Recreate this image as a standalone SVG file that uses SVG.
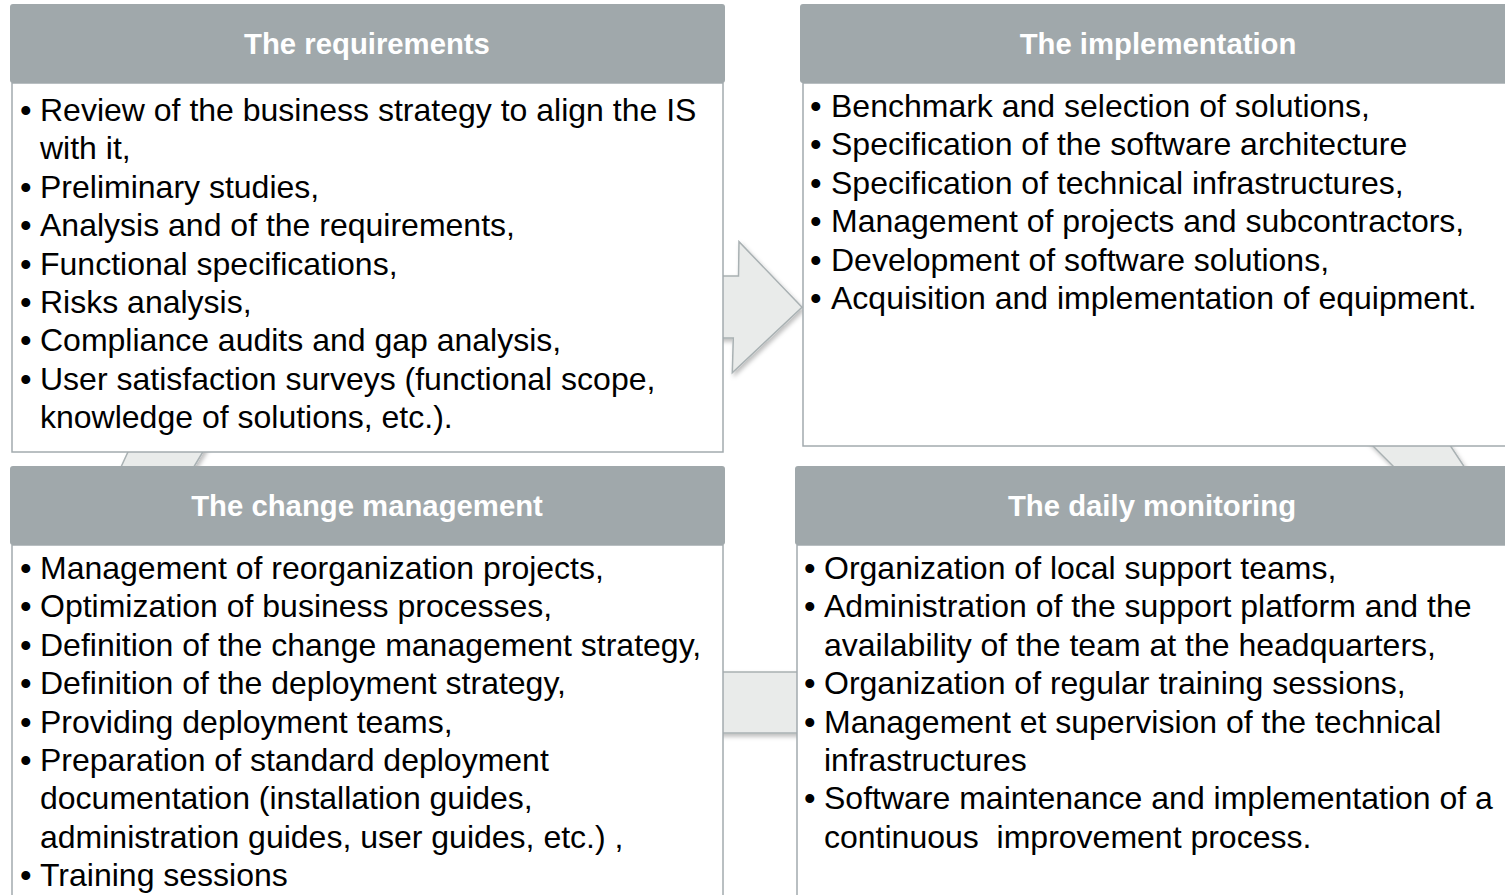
<svg xmlns="http://www.w3.org/2000/svg" width="1505" height="895" viewBox="0 0 1505 895">
<style>
.hdr{fill:#a0a8ab}
.body{fill:#ffffff;stroke:#a3abae;stroke-width:1.5}
.ht{font-family:"Liberation Sans",Arial,sans-serif;font-size:29.3px;font-weight:bold;fill:#ffffff;text-anchor:middle}
.bt{font-family:"Liberation Sans",Arial,sans-serif;font-size:32px;fill:#000000;white-space:pre}
.bu{font-family:"Liberation Sans",Arial,sans-serif;font-size:33px;fill:#000000}
.conn{fill:#e9ebea;stroke:#a9b1b3;stroke-width:1.5;stroke-linejoin:miter}
</style>
<defs>
<filter id="sh" x="-20%" y="-20%" width="140%" height="140%">
<feDropShadow dx="2" dy="3" stdDeviation="2" flood-color="#000" flood-opacity="0.25"/>
</filter>
</defs>
<g id="connectors">
<polygon class="conn" filter="url(#sh)" points="700,276 738.5,276 739,241.7 802,307.3 732.3,372.7 733.3,338 700,338"/>
<polygon class="conn" filter="url(#sh)" points="1357,430 1440,430 1473,480 1407,480"/>
<rect class="conn" filter="url(#sh)" x="700" y="672" width="120" height="61"/>
<polygon class="conn" filter="url(#sh)" points="133.5,440 210,440 186,480 115,480"/>
</g>
<g id="requirements">
<rect class="body" x="12" y="83" width="711" height="369"/>
<rect class="hdr" x="10" y="4" width="715" height="79" rx="3"/>
<text class="ht" x="367" y="54">The requirements</text>
<text class="bu" x="20" y="122">•</text><text class="bt" x="40" y="121">Review of the business strategy to align the IS</text>
<text class="bt" x="40" y="159.4">with it,</text>
<text class="bu" x="20" y="198.8">•</text><text class="bt" x="40" y="197.8">Preliminary studies,</text>
<text class="bu" x="20" y="237.2">•</text><text class="bt" x="40" y="236.2">Analysis and of the requirements,</text>
<text class="bu" x="20" y="275.6">•</text><text class="bt" x="40" y="274.6">Functional specifications,</text>
<text class="bu" x="20" y="314">•</text><text class="bt" x="40" y="313">Risks analysis,</text>
<text class="bu" x="20" y="352.4">•</text><text class="bt" x="40" y="351.4">Compliance audits and gap analysis,</text>
<text class="bu" x="20" y="390.8">•</text><text class="bt" x="40" y="389.8">User satisfaction surveys (functional scope,</text>
<text class="bt" x="40" y="428.2">knowledge of solutions, etc.).</text>
</g>
<g id="implementation">
<rect class="body" x="803" y="83" width="712" height="363"/>
<rect class="hdr" x="800" y="4" width="715" height="79" rx="3"/>
<text class="ht" x="1158" y="54">The implementation</text>
<text class="bu" x="810" y="118">•</text><text class="bt" x="831" y="117">Benchmark and selection of solutions,</text>
<text class="bu" x="810" y="156.4">•</text><text class="bt" x="831" y="155.4">Specification of the software architecture</text>
<text class="bu" x="810" y="194.8">•</text><text class="bt" x="831" y="193.8">Specification of technical infrastructures,</text>
<text class="bu" x="810" y="233.2">•</text><text class="bt" x="831" y="232.2">Management of projects and subcontractors,</text>
<text class="bu" x="810" y="271.6">•</text><text class="bt" x="831" y="270.6">Development of software solutions,</text>
<text class="bu" x="810" y="310">•</text><text class="bt" x="831" y="309">Acquisition and implementation of equipment.</text>
</g>
<g id="change-management">
<rect class="body" x="12" y="545" width="711" height="370"/>
<rect class="hdr" x="10" y="466" width="715" height="79" rx="3"/>
<text class="ht" x="367" y="516">The change management</text>
<text class="bu" x="20" y="580">•</text><text class="bt" x="40" y="579">Management of reorganization projects,</text>
<text class="bu" x="20" y="618.4">•</text><text class="bt" x="40" y="617.4">Optimization of business processes,</text>
<text class="bu" x="20" y="656.8">•</text><text class="bt" x="40" y="655.8">Definition of the change management strategy,</text>
<text class="bu" x="20" y="695.2">•</text><text class="bt" x="40" y="694.2">Definition of the deployment strategy,</text>
<text class="bu" x="20" y="733.6">•</text><text class="bt" x="40" y="732.6">Providing deployment teams,</text>
<text class="bu" x="20" y="772">•</text><text class="bt" x="40" y="771">Preparation of standard deployment</text>
<text class="bt" x="40" y="809.4">documentation (installation guides,</text>
<text class="bt" x="40" y="847.8">administration guides, user guides, etc.) ,</text>
<text class="bu" x="20" y="887.2">•</text><text class="bt" x="40" y="886.2">Training sessions</text>
</g>
<g id="daily-monitoring">
<rect class="body" x="797" y="545" width="720" height="370"/>
<rect class="hdr" x="795" y="466" width="720" height="79" rx="3"/>
<text class="ht" x="1152" y="516">The daily monitoring</text>
<text class="bu" x="804" y="580">•</text><text class="bt" x="824" y="579">Organization of local support teams,</text>
<text class="bu" x="804" y="618.4">•</text><text class="bt" x="824" y="617.4">Administration of the support platform and the</text>
<text class="bt" x="824" y="655.8">availability of the team at the headquarters,</text>
<text class="bu" x="804" y="695.2">•</text><text class="bt" x="824" y="694.2">Organization of regular training sessions,</text>
<text class="bu" x="804" y="733.6">•</text><text class="bt" x="824" y="732.6">Management et supervision of the technical</text>
<text class="bt" x="824" y="771">infrastructures</text>
<text class="bu" x="804" y="810.4">•</text><text class="bt" x="824" y="809.4">Software maintenance and implementation of a</text>
<text class="bt" x="824" y="847.8">continuous  improvement process.</text>
</g>
</svg>
